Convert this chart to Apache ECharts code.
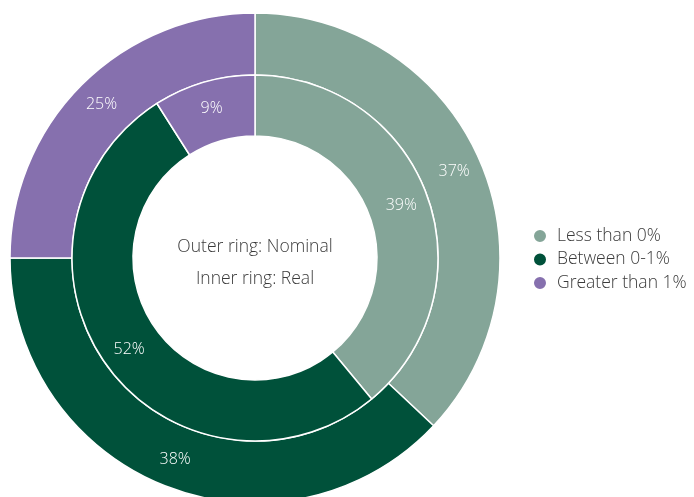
<!DOCTYPE html>
<html><head><meta charset="utf-8">
<script src="https://cdn.jsdelivr.net/npm/echarts@6/dist/echarts.min.js"></script>
<style>html,body{margin:0;padding:0;background:#fff}#c{width:694px;height:497px}</style>
</head><body><div id="c"></div>
<script>
const categories = ['Less than 0%', 'Between 0-1%', 'Greater than 1%'];
const nominal = [37, 38, 25];
const real = [39, 52, 9];
const colors = ['#84a598', '#00513a', '#8670ae'];
const centerLines = ['Outer ring: Nominal', 'Inner ring: Real'];

const chart = echarts.init(document.getElementById('c'));
const font = '"Open Sans", "Liberation Sans", sans-serif';
function mk(vals) { return categories.map((n, i) => ({ name: n, value: vals[i] })); }
const common = {
  type: 'pie', center: [255, 258], startAngle: 90, clockwise: true,
  label: { show: true, position: 'inside', formatter: '{c}%', color: '#fff', fontSize: 16, fontWeight: 300, fontFamily: font },
  labelLine: { show: false },
  itemStyle: { borderColor: '#fff', borderWidth: 1.5 },
  emphasis: { disabled: true },
  silent: true, animation: false
};
chart.setOption({
  color: colors,
  animation: false,
  legend: {
    data: categories, orient: 'vertical', left: 527, top: 222,
    icon: 'circle', itemWidth: 14, itemHeight: 14, itemGap: 5.5,
    textStyle: { fontSize: 17.5, lineHeight: 18, fontWeight: 300, color: '#3a3a3a', fontFamily: font, padding: [0, 0, 0, 5] }
  },
  graphic: [
    { type: 'text', x: 255, y: 247, style: { text: centerLines[0], textAlign: 'center', textVerticalAlign: 'middle', fontSize: 17.5, fontWeight: 300, fill: '#3a3a3a', fontFamily: font } },
    { type: 'text', x: 255, y: 279, style: { text: centerLines[1], textAlign: 'center', textVerticalAlign: 'middle', fontSize: 17.5, fontWeight: 300, fill: '#3a3a3a', fontFamily: font } }
  ],
  series: [
    Object.assign({}, common, { name: 'Nominal', radius: [183, 245], data: mk(nominal) }),
    Object.assign({}, common, { name: 'Real', radius: [122, 183], data: mk(real) })
  ]
});
</script></body></html>
